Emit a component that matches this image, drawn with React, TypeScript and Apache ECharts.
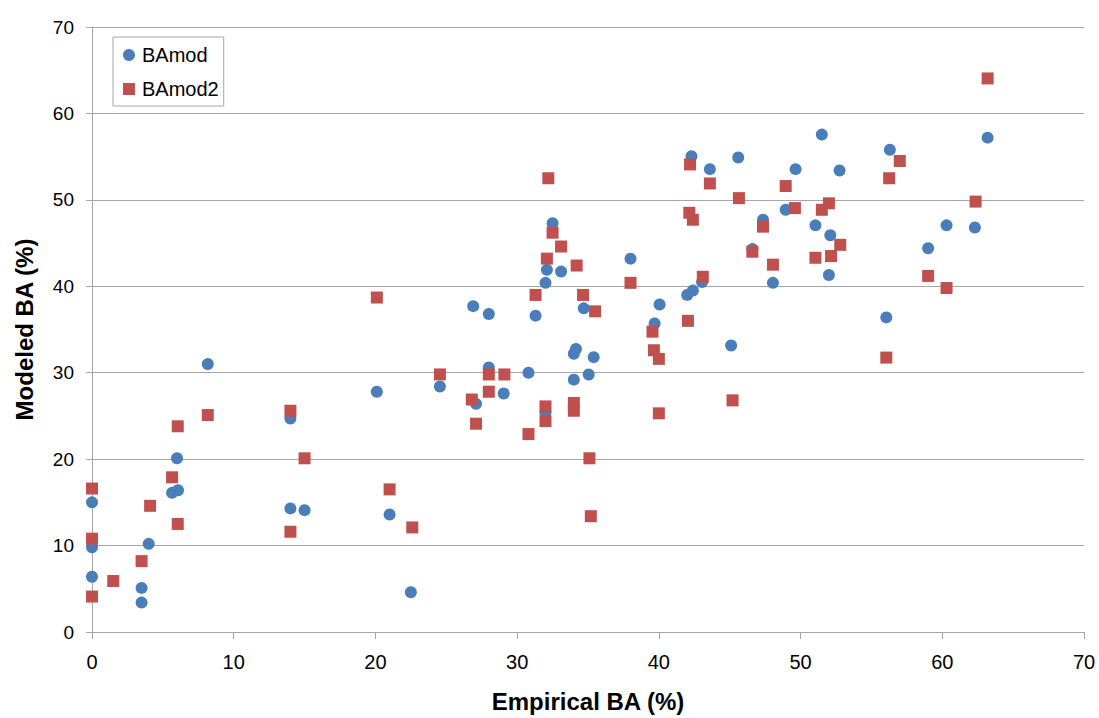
import React, { useEffect, useRef } from "react";
import * as echarts from "echarts";

const xTicks = [0, 10, 20, 30, 40, 50, 60, 70];

const bamodX = [
  0, 0, 0, 3.5, 3.5, 4.0, 5.65, 6.07, 6.0, 8.17,
  14.0, 14.0, 15.0, 20.1, 21.0, 22.5, 24.55, 26.9, 27.1, 28.0,
  28.0, 29.05, 30.8, 31.3, 32.0, 32.1, 32.5, 32.0, 33.1, 34.0,
  34.0, 34.15, 34.7, 35.05, 35.4, 38.0, 39.7, 40.05, 42.0, 42.4,
  42.3, 43.05, 43.6, 45.1, 45.6, 46.6, 47.35, 48.05, 48.95, 49.65,
  51.05, 51.5, 52.0, 52.1, 52.75, 56.05, 56.3, 59.0, 60.3, 62.3,
  63.2,
];
const bamodY = [
  15.0, 9.8, 6.4, 5.1, 3.4, 10.2, 16.1, 16.4, 20.1, 31.0,
  24.7, 14.3, 14.1, 27.8, 13.6, 4.6, 28.4, 37.7, 26.4, 36.8,
  30.6, 27.6, 30.0, 36.6, 40.4, 41.9, 47.3, 25.4, 41.7, 29.2,
  32.2, 32.75, 37.45, 29.8, 31.8, 43.2, 35.7, 37.9, 39.0, 39.5,
  55.05, 40.5, 53.55, 33.15, 54.9, 44.3, 47.7, 40.4, 48.85, 53.55,
  47.05, 57.55, 41.3, 45.9, 53.4, 36.4, 55.8, 44.4, 47.05, 46.8,
  57.2,
];

const bamod2X = [
  0, 0, 0, 1.5, 3.5, 4.1, 5.65, 6.05, 6.05, 8.17,
  14.0, 14.0, 15.0, 20.1, 21.0, 22.6, 24.55, 26.8, 27.1, 28.0,
  28.0, 29.1, 30.8, 31.3, 32.0, 32.0, 32.1, 32.2, 32.5, 33.1,
  34.0, 34.0, 34.2, 34.65, 35.1, 35.2, 35.5, 38.0, 39.55, 39.65,
  40.0, 40.0, 42.05, 42.15, 42.2, 42.4, 43.1, 43.6, 45.2, 45.65,
  46.6, 47.35, 48.05, 48.95, 49.6, 51.05, 51.5, 52.0, 52.15, 52.8,
  56.05, 56.25, 57.0, 59.0, 60.3, 62.35, 63.2,
];
const bamod2Y = [
  16.6, 10.8, 4.1, 5.9, 8.2, 14.6, 17.9, 12.5, 23.8, 25.1,
  25.6, 11.6, 20.1, 38.7, 16.5, 12.1, 29.8, 26.9, 24.1, 29.8,
  27.8, 29.8, 22.9, 39.0, 26.1, 24.4, 43.2, 52.5, 46.2, 44.6,
  26.5, 25.6, 42.4, 39.0, 20.1, 13.4, 37.1, 40.4, 34.75, 32.6,
  31.6, 25.3, 36.0, 48.5, 54.1, 47.7, 41.1, 51.9, 26.8, 50.2,
  44.0, 46.9, 42.5, 51.6, 49.05, 43.3, 48.85, 49.6, 43.5, 44.8,
  31.75, 52.5, 54.5, 41.2, 39.8, 49.8, 64.05,
];

const FONT = "'Liberation Sans', Arial, Helvetica, sans-serif";
const GRAY = "#a6a6a6";

export default function App() {
  const ref = useRef<HTMLDivElement>(null);

  useEffect(() => {
    if (!ref.current) return;
    const chart = echarts.init(ref.current, undefined, { renderer: "svg" });
    const pairs = (xs: number[], ys: number[]) => xs.map((x, i) => [x, ys[i]]);
    chart.setOption({
      animation: false,
      backgroundColor: "#ffffff",
      textStyle: { fontFamily: FONT },
      grid: { left: 92, right: 15, top: 27, bottom: 84, containLabel: false },
      legend: {
        orient: "vertical",
        left: 113,
        top: 37,
        padding: [8, 5, 7, 10],
        itemGap: 14,
        itemWidth: 12,
        itemHeight: 12,
        borderColor: GRAY,
        borderWidth: 1,
        backgroundColor: "#ffffff",
        textStyle: { fontSize: 20, color: "#000", fontFamily: FONT, padding: [0, 0, 0, 2] },
        data: [
          { name: "BAmod", icon: "circle" },
          { name: "BAmod2", icon: "rect" },
        ],
      },
      xAxis: {
        type: "value",
        min: xTicks[0],
        max: xTicks[xTicks.length - 1],
        interval: 10,
        name: "Empirical BA (%)",
        nameLocation: "middle",
        nameGap: 57,
        nameTextStyle: { fontSize: 24, fontWeight: "bold", color: "#000", fontFamily: FONT },
        axisLine: { show: true, lineStyle: { color: GRAY, width: 1 } },
        axisTick: { show: true, length: 7, lineStyle: { color: GRAY } },
        axisLabel: { fontSize: 20, color: "#000", margin: 20, fontFamily: FONT },
        splitLine: { show: false },
      },
      yAxis: {
        type: "value",
        min: 0,
        max: 70,
        interval: 10,
        name: "Modeled BA (%)",
        nameLocation: "middle",
        nameGap: 56,
        nameTextStyle: { fontSize: 24, fontWeight: "bold", color: "#000", fontFamily: FONT },
        axisLine: { show: true, lineStyle: { color: GRAY, width: 1 } },
        axisTick: { show: true, length: 6, lineStyle: { color: GRAY } },
        axisLabel: { fontSize: 19, color: "#000", margin: 18, fontFamily: FONT },
        splitLine: { show: true, lineStyle: { color: GRAY, width: 1 } },
      },
      series: [
        {
          name: "BAmod",
          type: "scatter",
          symbol: "circle",
          symbolSize: 12,
          itemStyle: { color: "#4a7ebb", opacity: 1 },
          data: pairs(bamodX, bamodY),
        },
        {
          name: "BAmod2",
          type: "scatter",
          symbol: "rect",
          symbolSize: 12,
          itemStyle: { color: "#c0504d", opacity: 1 },
          data: pairs(bamod2X, bamod2Y),
        },
      ],
    });
    return () => chart.dispose();
  }, []);

  return (
    <div
      ref={ref}
      style={{ position: "fixed", left: 0, top: 0, width: 1099, height: 718, background: "#fff" }}
    />
  );
}
